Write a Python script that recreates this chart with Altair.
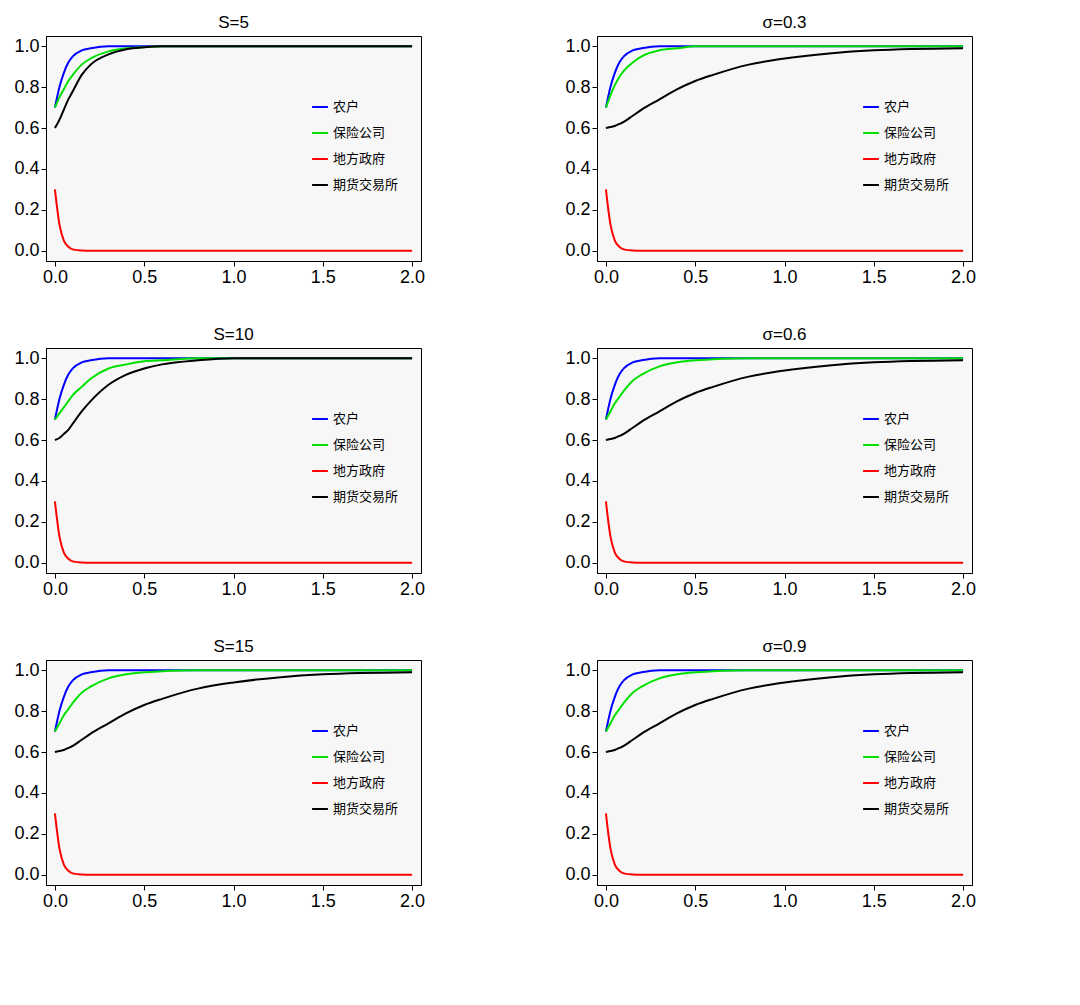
import pandas as pd
import altair as alt

xs = [0, 0.025, 0.05, 0.075, 0.1, 0.15, 0.2, 0.3, 0.4, 0.5, 0.6, 0.8, 1.0, 1.25, 1.5, 2.0]

blue = [0.7, 0.8, 0.87, 0.92, 0.95, 0.98, 0.99, 1, 1, 1, 1, 1, 1, 1, 1, 1]
red = [0.3, 0.13, 0.05, 0.02, 0.007, 0.001, 0, 0, 0, 0, 0, 0, 0, 0, 0, 0]

green_s5 = [0.7, 0.75, 0.79, 0.83, 0.86, 0.91, 0.94, 0.975, 0.99, 0.995, 1, 1, 1, 1, 1, 1]
black_s5 = [0.6, 0.64, 0.69, 0.74, 0.78, 0.86, 0.91, 0.96, 0.985, 0.995, 1, 1, 1, 1, 1, 1]
green_s10 = [0.7, 0.73, 0.76, 0.79, 0.82, 0.86, 0.9, 0.95, 0.97, 0.985, 0.99, 1, 1, 1, 1, 1]
black_s10 = [0.6, 0.61, 0.63, 0.65, 0.68, 0.74, 0.79, 0.87, 0.92, 0.95, 0.97, 0.99, 1, 1, 1, 1]
green_s15 = [0.7, 0.74, 0.78, 0.81, 0.84, 0.89, 0.92, 0.96, 0.98, 0.99, 0.995, 1, 1, 1, 1, 1]
black_slow = [0.6, 0.605, 0.61, 0.62, 0.63, 0.66, 0.69, 0.74, 0.79, 0.83, 0.86, 0.91, 0.94, 0.965, 0.98, 0.99]
green_sig3 = [0.7, 0.76, 0.81, 0.85, 0.88, 0.92, 0.95, 0.98, 0.99, 1, 1, 1, 1, 1, 1, 1]

series_names = ["农户", "保险公司", "地方政府", "期货交易所"]
series_colors = ["#0000ff", "#00e000", "#ff0000", "#000000"]

panels = [
    ("S=5", green_s5, black_s5),
    ("σ=0.3", green_sig3, black_slow),
    ("S=10", green_s10, black_s10),
    ("σ=0.6", green_s15, black_slow),
    ("S=15", green_s15, black_slow),
    ("σ=0.9", green_s15, black_slow),
]

charts = []
for title, g, b in panels:
    rows = []
    for name, vals in zip(series_names, [blue, g, red, b]):
        for i, (x, y) in enumerate(zip(xs, vals)):
            rows.append({"x": x, "y": y, "series": name, "order": i})
    df = pd.DataFrame(rows)
    c = alt.Chart(df).mark_line(interpolate="monotone", strokeWidth=2).encode(
        x=alt.X("x:Q", scale=alt.Scale(domain=[-0.05, 2.05], nice=False),
                axis=alt.Axis(values=[0, 0.5, 1.0, 1.5, 2.0], format=".1f", title=None,
                              grid=False, labelFontSize=18, labelColor="black",
                              tickColor="black", domainColor="black")),
        y=alt.Y("y:Q", scale=alt.Scale(domain=[-0.05, 1.05], nice=False),
                axis=alt.Axis(values=[0, 0.2, 0.4, 0.6, 0.8, 1.0], format=".1f", title=None,
                              grid=False, labelFontSize=18, labelColor="black",
                              tickColor="black", domainColor="black")),
        color=alt.Color("series:N", scale=alt.Scale(domain=series_names, range=series_colors),
                        legend=alt.Legend(orient="none", legendX=265, legendY=62, title=None,
                                          symbolType="stroke", symbolStrokeWidth=2, symbolSize=250,
                                          labelFontSize=13, rowPadding=10,
                                          labelFont="Noto Sans CJK SC")),
        order="order:Q",
    ).properties(width=375, height=225,
                 title=alt.TitleParams(title, fontSize=17, fontWeight="normal", font="Liberation Sans"))
    charts.append(c)

chart = alt.concat(*charts, columns=2, spacing={"row": 38, "column": 138}).resolve_scale(
    color="independent").resolve_legend(color="independent").configure_view(
    fill="#f7f7f7", stroke="black", strokeWidth=1
).properties(background="white")

chart.save("out.html", embed_options={"renderer": "svg", "actions": False})
